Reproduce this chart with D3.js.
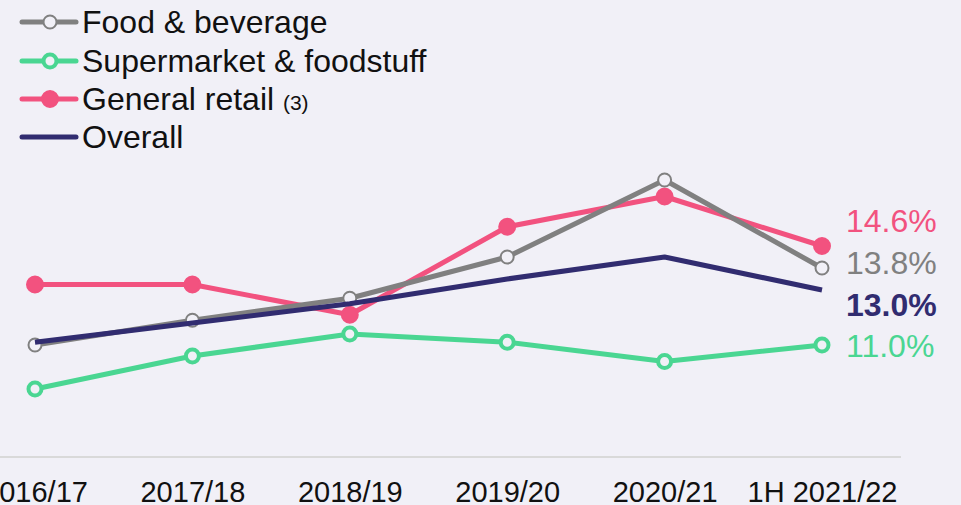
<!DOCTYPE html>
<html>
  <head>
    <meta charset="utf-8">
    <title>Margin by segment</title>
    <script type="text/javascript" src="https://d3js.org/d3.v7.min.js"></script>
    <style>
      body { margin: 0; background: #f1f0f7; }
      svg { display: block; font-family: "Liberation Sans", Arial, sans-serif; }
    </style>
  </head>
  <body>
    <div id="chart"></div>
    <script type="text/javascript">
        // data (percent)
        var years = ["2016/17", "2017/18", "2018/19", "2019/20", "2020/21", "1H 2021/22"];
        var foodBeverage = [11.0, 11.9, 12.7, 14.2, 17.0, 13.8];
        var supermarket = [9.4, 10.6, 11.4, 11.1, 10.4, 11.0];
        var generalRetail = [13.2, 13.2, 12.1, 15.3, 16.4, 14.6];
        var overall = [11.1, 11.8, 12.5, 13.4, 14.2, 13.0];
        var seriesNames = ["Food & beverage", "Supermarket & foodstuff", "General retail", "Overall"];

        var width = 961, height = 505;
        var bg = "#f1f0f7";

        var series = [
            {name: seriesNames[2], values: generalRetail, color: "#f2527f", marker: "filled", bold: false, labelY: 221},
            {name: seriesNames[1], values: supermarket, color: "#4ad692", marker: "ring", bold: false, labelY: 346},
            {name: seriesNames[0], values: foodBeverage, color: "#808080", marker: "open", bold: false, labelY: 263},
            {name: seriesNames[3], values: overall, color: "#312c70", marker: "none", bold: true, labelY: 305}
        ];

        function markerR(s) { return s.marker == "filled" ? 8 : (s.marker == "ring" ? 6.5 : 6.5); }
        function markerW(s) { return s.marker == "ring" ? 4 : 2; }

        var svg = d3.select("#chart").append("svg")
            .attr("width", width)
            .attr("height", height)
            .style("background", bg);

        var x = d3.scalePoint().domain(years).range([35, 822]);
        var y = d3.scaleLinear().domain([7, 18]).range([455, 152.5]);

        // baseline
        svg.append("line")
            .attr("x1", 0).attr("x2", 901)
            .attr("y1", 457).attr("y2", 457)
            .attr("stroke", "#d9d9d9")
            .attr("stroke-width", 2);

        var xAxis = svg.append("g")
            .attr("transform", "translate(0,457)")
            .call(d3.axisBottom(x).tickSize(0).tickPadding(24));
        xAxis.select(".domain").remove();
        xAxis.selectAll("text")
            .attr("font-size", 29)
            .attr("font-family", "Liberation Sans, Arial, sans-serif")
            .attr("fill", "#111");

        var line = d3.line()
            .x(function(d, i) { return x(years[i]); })
            .y(function(d) { return y(d); });

        series.forEach(function(s) {
            svg.append("path")
                .datum(s.values)
                .attr("d", line)
                .attr("fill", "none")
                .attr("stroke", s.color)
                .attr("stroke-width", 5)
                .attr("stroke-linejoin", "round");

            if (s.marker == "none") return;
            svg.selectAll(null)
                .data(s.values)
                .enter()
                .append("circle")
                    .attr("cx", function(d, i) { return x(years[i]); })
                    .attr("cy", function(d) { return y(d); })
                    .attr("r", markerR(s))
                    .attr("fill", s.marker == "filled" ? s.color : bg)
                    .attr("stroke", s.color)
                    .attr("stroke-width", markerW(s));
        });

        // end labels (value of the last point)
        var last = years.length - 1;
        series.forEach(function(s) {
            svg.append("text")
                .attr("x", 846)
                .attr("y", s.labelY)
                .attr("dy", "0.35em")
                .attr("font-size", 32)
                .attr("font-weight", s.bold ? "bold" : "normal")
                .attr("fill", s.color)
                .text(d3.format(".1f")(s.values[last]) + "%");
        });

        // legend
        var legendOrder = [series[2], series[1], series[0], series[3]];
        var legendY = [22, 61, 99, 137];
        legendOrder.forEach(function(s, i) {
            var g = svg.append("g").attr("transform", "translate(0," + legendY[i] + ")");
            g.append("line")
                .attr("x1", 22).attr("x2", 76)
                .attr("stroke", s.color)
                .attr("stroke-width", 5)
                .attr("stroke-linecap", "round");
            if (s.marker != "none") {
                g.append("circle")
                    .attr("cx", 50)
                    .attr("r", markerR(s))
                    .attr("fill", s.marker == "filled" ? s.color : bg)
                    .attr("stroke", s.color)
                    .attr("stroke-width", markerW(s));
            }
            var t = g.append("text")
                .attr("x", 82)
                .attr("dy", "0.35em")
                .attr("font-size", 32)
                .attr("fill", "#111")
                .text(s.name);
            if (s.name == "General retail") {
                t.append("tspan").attr("font-size", 21).attr("dx", 3).text(" (3)");
            }
        });
    </script>
  </body>
</html>
